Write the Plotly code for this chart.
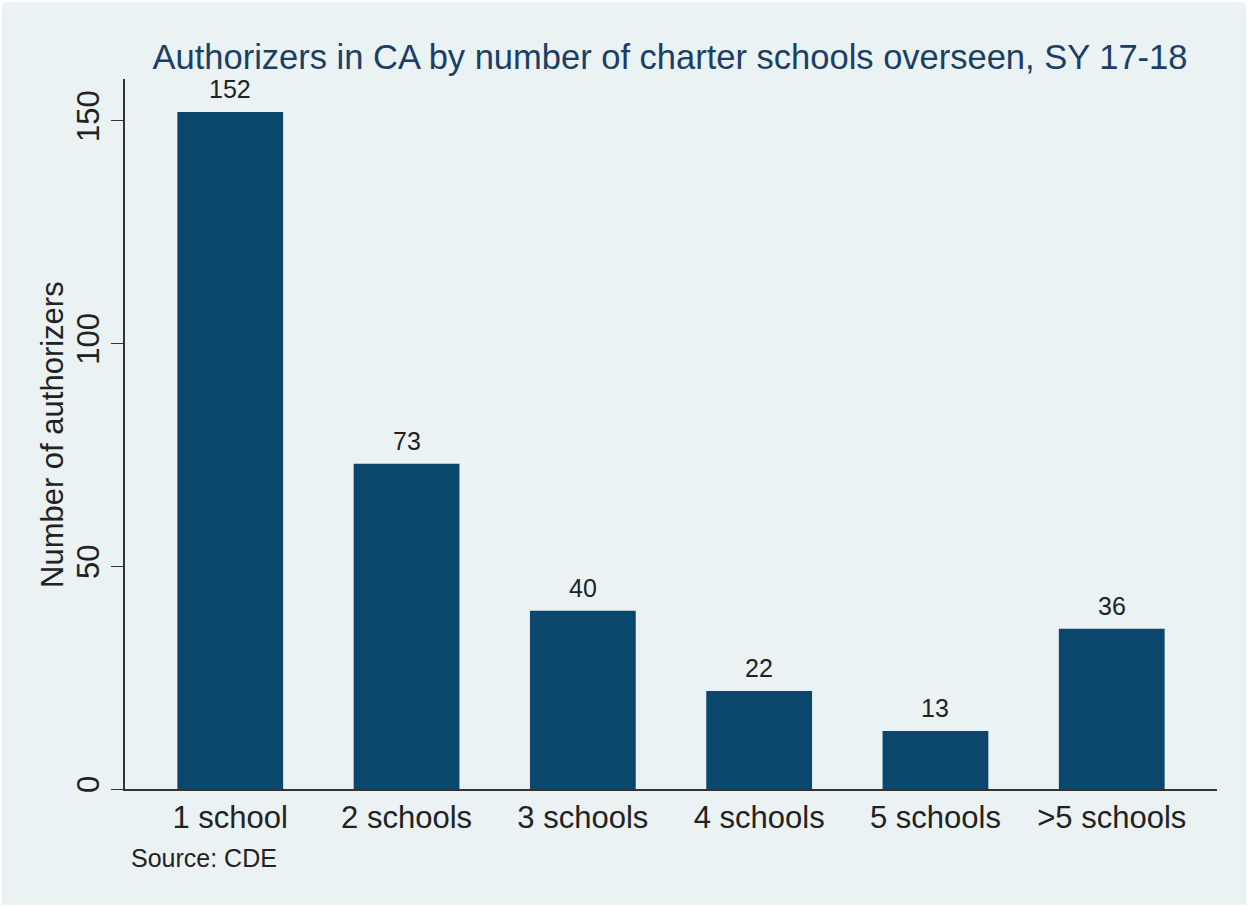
import plotly.graph_objects as go

categories = ["1 school", "2 schools", "3 schools", "4 schools", "5 schools", ">5 schools"]
counts = [152, 73, 40, 22, 13, 36]
y_ticks = [0, 50, 100, 150]

BG = "#EAF2F3"
BAR = "#0b476d"
NAVY = "#1a3f66"
TXT = "#222222"
FONT = "Liberation Sans, Arial, Helvetica, sans-serif"

fig = go.Figure()
fig.add_trace(go.Bar(
    x=categories, y=counts, width=0.6,
    marker=dict(color=BAR, line=dict(width=0)),
    hoverinfo="x+y",
))

for c, v in zip(categories, counts):
    fig.add_annotation(x=c, y=v, text=str(v), showarrow=False,
                       yanchor="bottom", yshift=7,
                       font=dict(size=25, color=TXT, family=FONT))

fig.add_annotation(xref="paper", yref="paper", x=0.004, y=-0.074,
                   xanchor="left", yanchor="top", text="Source: CDE", showarrow=False,
                   font=dict(size=25, color=TXT, family=FONT))

# y-axis title placed as annotation for precise position
fig.add_annotation(xref="paper", yref="paper", x=(52 - 125) / 1092, y=(789 - 435) / 710,
                   xanchor="center", yanchor="middle", textangle=-90,
                   text="Number of authorizers", showarrow=False,
                   font=dict(size=31, color=TXT, family=FONT))

# outer light panel with thin white border
fig.add_shape(type="rect", xref="paper", yref="paper",
              x0=-0.1126, x1=1.0266, y0=-0.163, y1=1.108,
              fillcolor=BG, line=dict(width=0), layer="below")

fig.update_layout(
    width=1248, height=907,
    margin=dict(l=125, r=31, t=79, b=118),
    paper_bgcolor="white",
    plot_bgcolor="white",
    showlegend=False,
    title=dict(text="Authorizers in CA by number of charter schools overseen, SY 17-18",
               x=(670 - 125) / 1092, xanchor="center", xref="paper",
               y=1 - 57 / 907, yanchor="middle",
               font=dict(size=34.5, color=NAVY, family=FONT)),
    font=dict(family=FONT, color=TXT),
)

fig.update_xaxes(
    type="category", range=[-0.597, 5.597],
    showline=True, linecolor="#333333", linewidth=1.5,
    showgrid=False, ticks="", zeroline=False,
    tickfont=dict(size=31, color=TXT),
)
fig.update_yaxes(
    range=[0, 159.4], tickvals=y_ticks,
    showline=True, linecolor="#333333", linewidth=1.5,
    ticks="outside", ticklen=12, tickcolor="#333333", tickwidth=1.2,
    tickangle=-90, tickfont=dict(size=31, color=TXT),
    showgrid=True, gridcolor=BG, gridwidth=2, zeroline=False,
)

fig.write_html("out.html", config={"displayModeBar": False},
               post_script="document.body.style.margin='0';document.body.style.overflow='hidden';")
